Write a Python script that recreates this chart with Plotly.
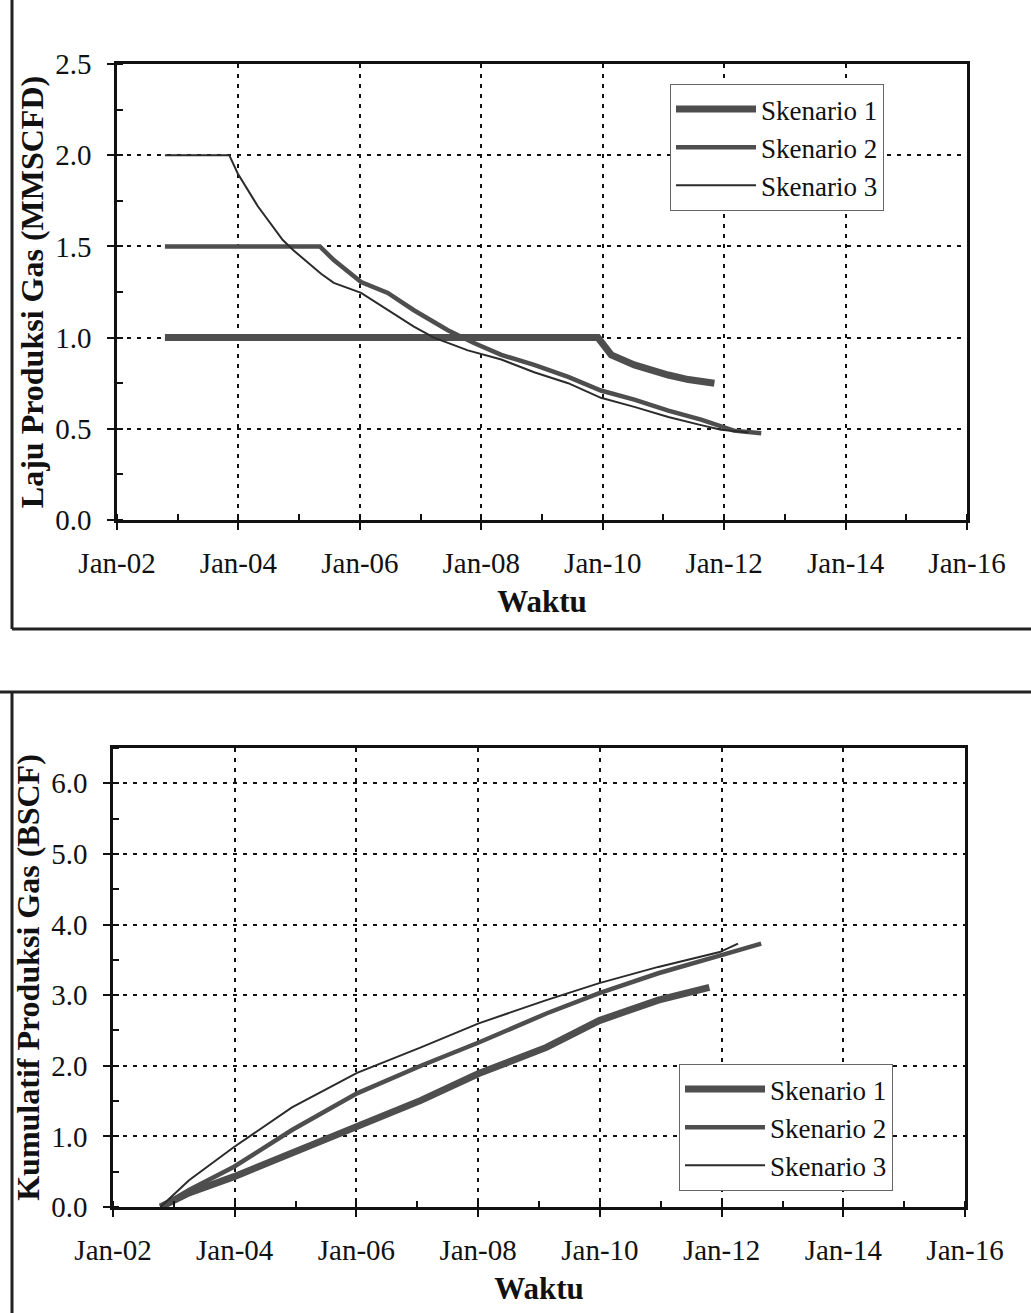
import plotly.graph_objects as go
import pandas as pd

# ---------------- data (decimal years) ----------------
# Top chart: Laju Produksi Gas (MMSCFD)
rate_s1_t = [2002.79, 2009.92, 2010.14, 2010.52, 2011.08, 2011.41, 2011.84]
rate_s1_v = [1.0, 1.0, 0.905, 0.85, 0.795, 0.77, 0.75]

rate_s2_t = [2002.79, 2005.34, 2005.57, 2006.02, 2006.46, 2006.89, 2007.45, 2007.88,
             2008.33, 2008.87, 2009.43, 2009.97, 2010.52, 2011.08, 2011.62, 2011.90,
             2012.16, 2012.61]
rate_s2_v = [1.5, 1.5, 1.425, 1.305, 1.245, 1.15, 1.04, 0.97,
             0.905, 0.85, 0.785, 0.71, 0.66, 0.60, 0.55, 0.52,
             0.49, 0.475]

rate_s3_t = [2002.79, 2003.85, 2003.99, 2004.32, 2004.73, 2004.90, 2005.36, 2005.57,
             2006.02, 2006.46, 2006.89, 2007.22, 2007.78, 2008.33, 2008.87, 2009.43,
             2009.97, 2010.52, 2011.08, 2011.62, 2011.95, 2012.40]
rate_s3_v = [2.0, 2.0, 1.90, 1.72, 1.535, 1.48, 1.35, 1.30,
             1.245, 1.15, 1.06, 1.0, 0.93, 0.88, 0.81, 0.75,
             0.67, 0.62, 0.565, 0.52, 0.495, 0.48]

# Bottom chart: Kumulatif Produksi Gas (BSCF)
cum_s1_t = [2002.78, 2003.25, 2003.99, 2004.94, 2006.01, 2007.06, 2008.01, 2009.12,
            2009.99, 2010.96, 2011.80]
cum_s1_v = [0.0, 0.20, 0.43, 0.76, 1.13, 1.51, 1.89, 2.26, 2.64, 2.93, 3.11]

cum_s2_t = [2002.78, 2003.25, 2003.99, 2004.94, 2006.01, 2007.06, 2008.01, 2009.12,
            2009.99, 2010.96, 2011.97, 2012.65]
cum_s2_v = [0.0, 0.24, 0.57, 1.09, 1.61, 2.00, 2.33, 2.74, 3.03, 3.31, 3.56, 3.73]

cum_s3_t = [2002.78, 2003.25, 2003.99, 2004.94, 2006.01, 2007.06, 2008.01, 2009.12,
            2009.99, 2010.96, 2011.97, 2012.27]
cum_s3_v = [0.0, 0.38, 0.85, 1.41, 1.90, 2.26, 2.60, 2.93, 3.17, 3.40, 3.61, 3.73]

series_names = ["Skenario 1", "Skenario 2", "Skenario 3"]
tick_years = [2002, 2004, 2006, 2008, 2010, 2012, 2014, 2016]
tick_labels = ["Jan-02", "Jan-04", "Jan-06", "Jan-08", "Jan-10", "Jan-12", "Jan-14", "Jan-16"]


def to_dates(years):
    out = []
    for y in years:
        yi = int(y)
        start = pd.Timestamp(year=yi, month=1, day=1)
        end = pd.Timestamp(year=yi + 1, month=1, day=1)
        out.append(start + (end - start) * (y - yi))
    return out


FONT = "Liberation Serif"
W, H = 1031, 1313
widths = [7, 4.5, 2]
colors = ["#4e4e4e", "#4e4e4e", "#2b2b2b"]

fig = go.Figure()

top = [(rate_s1_t, rate_s1_v), (rate_s2_t, rate_s2_v), (rate_s3_t, rate_s3_v)]
bot = [(cum_s1_t, cum_s1_v), (cum_s2_t, cum_s2_v), (cum_s3_t, cum_s3_v)]

for i, (t, v) in enumerate(top):
    fig.add_trace(go.Scatter(x=to_dates(t), y=v, mode="lines", name=series_names[i],
                             line=dict(color=colors[i], width=widths[i]),
                             xaxis="x", yaxis="y", legend="legend"))
for i, (t, v) in enumerate(bot):
    fig.add_trace(go.Scatter(x=to_dates(t), y=v, mode="lines", name=series_names[i],
                             line=dict(color=colors[i], width=widths[i]),
                             xaxis="x2", yaxis="y2", legend="legend2"))

tickvals = [f"{y}-01-01" for y in tick_years]


def xaxis(domain, anchor):
    return dict(
        domain=domain, anchor=anchor, type="date", automargin=False,
        range=["2002-01-01", "2016-01-01"],
        tickmode="array", tickvals=tickvals, ticktext=tick_labels,
        showgrid=True, gridcolor="#111", gridwidth=2, griddash="4px,6px",
        showline=True, linecolor="#111", linewidth=2.5, mirror=True,
        ticks="outside", ticklen=7, tickcolor="#111", tickwidth=1.5,
        ticklabelstandoff=8,
        minor=dict(ticks="inside", ticklen=6, tickcolor="#111", dtick="M12",
                   tick0="2003-01-01", showgrid=False),
        tickfont=dict(family=FONT, size=29, color="#111"),
        title=dict(text="<b>Waktu</b>", font=dict(family=FONT, size=31, color="#111"),
                   standoff=13),
        zeroline=False,
    )


def yaxis(domain, anchor, rng, dtick, title):
    return dict(
        domain=domain, anchor=anchor, range=rng, dtick=dtick, tick0=0, automargin=False,
        tickformat=".1f",
        showgrid=True, gridcolor="#111", gridwidth=2, griddash="4px,6px",
        showline=True, linecolor="#111", linewidth=2.5, mirror=True,
        ticks="outside", ticklen=7, tickcolor="#111", tickwidth=1.5,
        ticklabelstandoff=10,
        minor=dict(ticks="inside", ticklen=6, tickcolor="#111", dtick=dtick / 2,
                   showgrid=False),
        tickfont=dict(family=FONT, size=29, color="#111"),
        title=dict(text=f"<b>{title}</b>", font=dict(family=FONT, size=32, color="#111"),
                   standoff=3),
        zeroline=False,
    )


legend_common = dict(xanchor="left", yanchor="top", bgcolor="white",
                     bordercolor="#666", borderwidth=1,
                     font=dict(family=FONT, size=27, color="#111"),
                     itemwidth=80, tracegroupgap=0, traceorder="normal")

fig.update_layout(
    width=W, height=H,
    margin=dict(l=0, r=0, t=0, b=0, autoexpand=False),
    paper_bgcolor="white", plot_bgcolor="white",
    xaxis=xaxis([117 / W, 967 / W], "y"),
    yaxis=yaxis([1 - 520 / H, 1 - 64 / H], "x", [0, 2.5], 0.5, "Laju Produksi Gas (MMSCFD)"),
    xaxis2=xaxis([113 / W, 965 / W], "y2"),
    yaxis2=yaxis([1 - 1207 / H, 1 - 748 / H], "x2", [0, 6.5], 1.0, "Kumulatif Produksi Gas (BSCF)"),
    legend=dict(x=670 / W, y=1 - 84 / H, **legend_common),
    legend2=dict(x=679 / W, y=1 - 1064 / H, **legend_common),
    showlegend=True,
)

# outer frames of the two scanned figures
frame = dict(type="line", xref="paper", yref="paper", line=dict(color="#222", width=3))
fig.add_shape(x0=12 / W, x1=12 / W, y0=1, y1=1 - 629 / H, **frame)
fig.add_shape(x0=12 / W, x1=1, y0=1 - 629 / H, y1=1 - 629 / H, **frame)
fig.add_shape(x0=0, x1=1, y0=1 - 692 / H, y1=1 - 692 / H, **frame)
fig.add_shape(x0=12 / W, x1=12 / W, y0=1 - 692 / H, y1=0, **frame)

fig.write_html("out.html", config={"displayModeBar": False},
               post_script="document.body.style.margin='0';")
